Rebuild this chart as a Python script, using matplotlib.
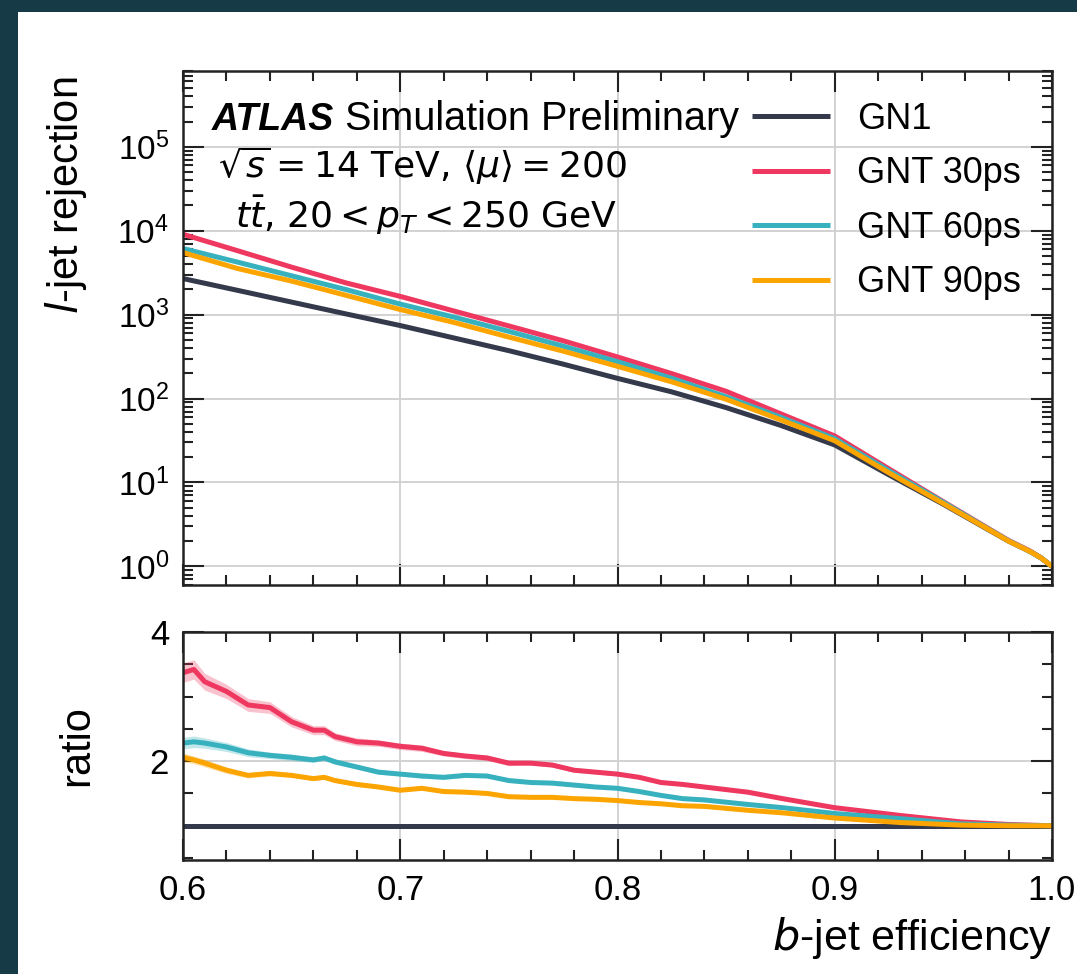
import numpy as np
import matplotlib.pyplot as plt
from matplotlib.patches import Rectangle
from matplotlib.ticker import MultipleLocator, LogLocator, NullFormatter, FixedLocator

plt.rcParams['font.family'] = ['Liberation Sans', 'DejaVu Sans']
plt.rcParams['mathtext.fontset'] = 'dejavusans'

# efficiency grid for the rejection curves
eff = [0.6, 0.625, 0.65, 0.675, 0.7, 0.725, 0.75, 0.775, 0.8, 0.825,
       0.85, 0.875, 0.9, 0.925, 0.95, 0.97, 0.98, 0.99, 0.995, 1.0]
rej_gn1 = [2690, 1950, 1410, 1020, 741, 525, 372, 257, 174, 120,
           78, 48, 28, 12.3, 5.5, 2.8, 2.0, 1.5, 1.26, 1.0]
rej_30 = [9065, 5790, 3680, 2390, 1650, 1100, 733, 488, 313, 198,
          122, 66, 35.8, 14.5, 5.9, 2.9, 2.04, 1.52, 1.26, 1.0]
rej_60 = [6130, 4230, 2900, 1990, 1335, 930, 632, 421, 275, 174,
          105, 60, 33.3, 13.8, 5.8, 2.86, 2.02, 1.5, 1.26, 1.0]
rej_90 = [5490, 3550, 2510, 1700, 1150, 803, 540, 367, 242, 158,
          98, 56, 31.4, 13.0, 5.6, 2.83, 2.0, 1.5, 1.26, 1.0]
rej_ticks = [1e0, 1e1, 1e2, 1e3, 1e4, 1e5]

# ratio panel (finer grid)
eff_r = [0.6, 0.605, 0.61, 0.62, 0.63, 0.64, 0.65, 0.66, 0.665, 0.67, 0.68, 0.69,
         0.70, 0.71, 0.72, 0.73, 0.74, 0.75, 0.76, 0.77, 0.78, 0.79, 0.80, 0.81,
         0.82, 0.83, 0.84, 0.86, 0.876, 0.9, 0.93, 0.958, 0.98, 1.0]
ratio_30 = [3.37, 3.42, 3.23, 3.08, 2.87, 2.83, 2.61, 2.48, 2.48, 2.38, 2.30, 2.28,
            2.23, 2.20, 2.12, 2.08, 2.05, 1.97, 1.97, 1.94, 1.86, 1.83, 1.80, 1.75,
            1.67, 1.64, 1.60, 1.52, 1.42, 1.28, 1.16, 1.06, 1.02, 1.0]
ratio_60 = [2.28, 2.30, 2.28, 2.22, 2.13, 2.09, 2.06, 2.02, 2.05, 1.99, 1.91, 1.83,
            1.80, 1.77, 1.75, 1.78, 1.77, 1.70, 1.67, 1.66, 1.63, 1.60, 1.58, 1.53,
            1.47, 1.42, 1.40, 1.33, 1.28, 1.19, 1.11, 1.03, 1.01, 1.0]
ratio_90 = [2.06, 2.02, 1.97, 1.86, 1.78, 1.81, 1.78, 1.73, 1.75, 1.70, 1.64, 1.60,
            1.55, 1.58, 1.53, 1.52, 1.50, 1.45, 1.44, 1.44, 1.42, 1.41, 1.39, 1.36,
            1.34, 1.31, 1.30, 1.24, 1.20, 1.12, 1.05, 1.01, 1.0, 1.0]
ratio_gn1 = [1.0] * len(eff_r)
# half-width of the shaded uncertainty band
err_30 = [0.15, 0.15, 0.13, 0.11, 0.10, 0.09, 0.08, 0.07, 0.07, 0.06, 0.06, 0.05,
          0.05, 0.05, 0.04, 0.04, 0.04, 0.04, 0.03, 0.03, 0.03, 0.03, 0.03, 0.02,
          0.02, 0.02, 0.02, 0.02, 0.01, 0.01, 0.01, 0.0, 0.0, 0.0]
err_60 = [0.09, 0.09, 0.08, 0.07, 0.06, 0.05, 0.05, 0.04, 0.04, 0.04, 0.03, 0.03,
          0.03, 0.03, 0.03, 0.02, 0.02, 0.02, 0.02, 0.02, 0.02, 0.02, 0.02, 0.01,
          0.01, 0.01, 0.01, 0.01, 0.01, 0.01, 0.0, 0.0, 0.0, 0.0]
err_90 = [0.07, 0.06, 0.06, 0.05, 0.04, 0.04, 0.03, 0.03, 0.03, 0.03, 0.03, 0.02,
          0.02, 0.02, 0.02, 0.02, 0.02, 0.02, 0.01, 0.01, 0.01, 0.01, 0.01, 0.01,
          0.01, 0.01, 0.01, 0.01, 0.01, 0.0, 0.0, 0.0, 0.0, 0.0]
ratio_ticks = [2, 4]

labels = ['GN1', 'GNT 30ps', 'GNT 60ps', 'GNT 90ps']
colors = ['#343a4b', '#ee3860', '#38b1bf', '#fca400']

W, H = 1077, 974
fig = plt.figure(figsize=(W / 100, H / 100), dpi=100)
fig.patch.set_facecolor('#163a46')
fig.add_artist(Rectangle((18 / W, 0), 1, 1 - 12 / H, transform=fig.transFigure,
                         facecolor='white', edgecolor='none', zorder=-10))

ax = fig.add_axes([183 / W, 1 - 585 / H, 869 / W, 514 / H])
ax2 = fig.add_axes([183 / W, 1 - 860 / H, 869 / W, 228 / H], sharex=ax)

for y, lab, c in zip([rej_gn1, rej_30, rej_60, rej_90], labels, colors):
    ax.plot(eff, y, color=c, lw=3.6, label=lab, solid_capstyle='butt')

ax.set_yscale('log')
ax.set_xlim(0.6, 1.0)
ax.set_ylim(0.6, 8e5)
ax.yaxis.set_major_locator(FixedLocator(rej_ticks))
ax.yaxis.set_minor_locator(LogLocator(base=10, subs=np.arange(2, 10), numticks=20))
ax.yaxis.set_minor_formatter(NullFormatter())
ax.xaxis.set_major_locator(MultipleLocator(0.1))
ax.xaxis.set_minor_locator(MultipleLocator(0.02))
ax.tick_params(labelbottom=False)
ax.set_ylabel(r'$l$-jet rejection', fontsize=30, loc='top')
ax.yaxis.set_label_coords(-0.108, 0.99)

for r, e, c in [(ratio_30, err_30, colors[1]), (ratio_60, err_60, colors[2]),
                (ratio_90, err_90, colors[3])]:
    r = np.array(r)
    e = np.array(e)
    ax2.fill_between(eff_r, r - e, r + e, color=c, alpha=0.3, lw=0)
ax2.plot(eff_r, ratio_gn1, color=colors[0], lw=3.6)
for r, c in [(ratio_30, colors[1]), (ratio_60, colors[2]), (ratio_90, colors[3])]:
    ax2.plot(eff_r, r, color=c, lw=3.6)
ax2.set_ylim(0.47, 4.0)
ax2.yaxis.set_major_locator(FixedLocator(ratio_ticks))
ax2.yaxis.set_minor_locator(MultipleLocator(0.5))
ax2.set_xticks([0.6, 0.7, 0.8, 0.9, 1.0])
ax2.set_xticklabels(['0.6', '0.7', '0.8', '0.9', '1.0'])
ax2.set_ylabel('ratio', fontsize=30)
ax2.yaxis.set_label_coords(-0.099, 0.5)
ax2.set_xlabel(r'$b$-jet efficiency', fontsize=31, loc='right', labelpad=6)

for a in [ax, ax2]:
    a.grid(True, which='major', color='#cfcfcf', lw=1.3)
    a.set_axisbelow(True)
    a.tick_params(which='both', direction='in', top=True, right=True,
                  labelsize=25, width=1.5, color='#222222')
    a.tick_params(which='major', length=15, pad=10)
    a.tick_params(which='minor', length=7)
    for s in a.spines.values():
        s.set_linewidth(1.8)
        s.set_color('#222222')
ax.tick_params(axis='y', labelsize=24)

ax.text(212 / W, 1 - 130 / H, 'ATLAS', transform=fig.transFigure, fontsize=27,
        fontweight='bold', fontstyle='italic', va='baseline')
ax.text(345 / W, 1 - 130 / H, 'Simulation Preliminary', transform=fig.transFigure,
        fontsize=28.5, va='baseline')
ax.text(218 / W, 1 - 178 / H, r'$\sqrt{s}=14$ TeV, $\langle\mu\rangle=200$',
        transform=fig.transFigure, fontsize=26, va='baseline', family='DejaVu Sans')
ax.text(235 / W, 1 - 228 / H, r'$t\bar{t}$, $20<p_T<250$ GeV',
        transform=fig.transFigure, fontsize=26, va='baseline', family='DejaVu Sans')

ax.legend(loc='upper right', bbox_to_anchor=(1.0, 1.0), frameon=False, fontsize=26,
          handlelength=2.17, handletextpad=0.75, labelspacing=0.54,
          borderaxespad=0.45)

fig.savefig('out.png', dpi=100, facecolor=fig.get_facecolor())
